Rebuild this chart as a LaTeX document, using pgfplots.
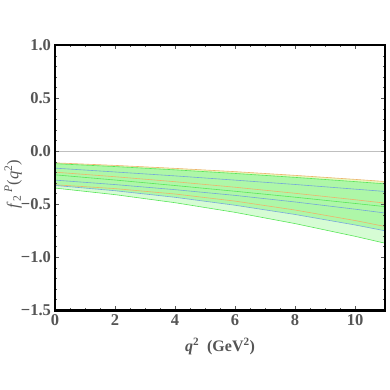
\documentclass[border=0pt]{standalone}
\usepackage{fontspec}
\setmainfont{Liberation Serif}
\usepackage{pgfplots}
\usepackage{pgfplotstable}
\pgfplotsset{compat=1.18}
\definecolor{lgray}{HTML}{555555}
\definecolor{cO}{HTML}{EDB46C}
\definecolor{cG}{HTML}{5AE65A}
\definecolor{cB}{HTML}{74A8D8}
\definecolor{fTop}{HTML}{E6F9BE}
\definecolor{fMid}{HTML}{AEF7A8}
\definecolor{fBot}{HTML}{D6FCD4}
\pgfplotstableread{
x    O1     G1     B1     O2     G2     B2     O3     B3     G3
0   -0.107 -0.115 -0.157 -0.195 -0.220 -0.270 -0.314 -0.320 -0.345
2   -0.131 -0.142 -0.193 -0.238 -0.269 -0.312 -0.350 -0.370 -0.407
4   -0.159 -0.173 -0.230 -0.285 -0.321 -0.360 -0.401 -0.432 -0.483
6   -0.190 -0.207 -0.270 -0.337 -0.375 -0.414 -0.468 -0.507 -0.574
8   -0.225 -0.244 -0.311 -0.394 -0.431 -0.476 -0.552 -0.594 -0.680
10  -0.263 -0.284 -0.355 -0.455 -0.490 -0.544 -0.651 -0.693 -0.800
11  -0.283 -0.305 -0.377 -0.487 -0.520 -0.580 -0.707 -0.748 -0.865
}\datatab
\begin{document}
\begin{tikzpicture}
\useasboundingbox (0,0) rectangle (390bp,390bp);
\begin{axis}[
  at={(55bp,79.5bp)}, anchor=south west,
  scale only axis, width=330bp, height=265bp,
  xmin=0, xmax=11, ymin=-1.5, ymax=1.0,
  xtick={0,2,4,6,8,10}, xticklabels={0,2,4,6,8,10},
  minor x tick num=3,
  ytick={-1.5,-1,-0.5,0,0.5,1}, yticklabels={−1.5,−1.0,−0.5,0.0,0.5,1.0},
  minor y tick num=4,
  tick align=inside, major tick length=4bp, minor tick length=2bp,
  tick style={lgray, line width=0.8bp},
  axis line style={black, line width=2bp},
  axis on top,
  ticklabel style={font=\fontsize{16.5bp}{19bp}\selectfont\bfseries, text=lgray},
  xticklabel style={yshift=-0.5bp},
  yticklabel style={xshift=-0.5bp},
  xlabel={\bfseries\textit{q}\textsuperscript{2}\ \ (GeV\textsuperscript{2})},
  xlabel style={at={(axis description cs:0.5,0)}, anchor=north, yshift=-24bp, font=\fontsize{16bp}{19bp}\selectfont, text=lgray},
  ylabel={\textit{f}\textsubscript{2}\,\textsuperscript{\textit{P}}(\textit{q}\textsuperscript{2})},
  ylabel style={at={(axis description cs:-0.127,0.477)}, anchor=center, font=\fontsize{16.5bp}{19bp}\selectfont, text=lgray},
]
\addplot[gray!50, line width=0.7bp] coordinates {(0,0) (11,0)};
\addplot[fill=fTop, draw=none] coordinates {(0,-0.107)(2,-0.131)(4,-0.159)(6,-0.190)(8,-0.225)(10,-0.263)(11,-0.283)(11,-0.305)(10,-0.284)(8,-0.244)(6,-0.207)(4,-0.173)(2,-0.142)(0,-0.115)} -- cycle;
\addplot[fill=fMid, draw=none] coordinates {(0,-0.115)(2,-0.142)(4,-0.173)(6,-0.207)(8,-0.244)(10,-0.284)(11,-0.305)(11,-0.748)(10,-0.693)(8,-0.594)(6,-0.507)(4,-0.432)(2,-0.370)(0,-0.320)} -- cycle;
\addplot[fill=fBot, draw=none] coordinates {(0,-0.320)(2,-0.370)(4,-0.432)(6,-0.507)(8,-0.594)(10,-0.693)(11,-0.748)(11,-0.865)(10,-0.800)(8,-0.680)(6,-0.574)(4,-0.483)(2,-0.407)(0,-0.345)} -- cycle;
\addplot[cO, line width=0.6bp] table[x=x, y=O1] {\datatab};
\addplot[cG, line width=0.6bp] table[x=x, y=G1] {\datatab};
\addplot[cB, line width=0.6bp] table[x=x, y=B1] {\datatab};
\addplot[cO, line width=0.6bp] table[x=x, y=O2] {\datatab};
\addplot[cG, line width=0.6bp] table[x=x, y=G2] {\datatab};
\addplot[cB, line width=0.6bp] table[x=x, y=B2] {\datatab};
\addplot[cO, line width=0.6bp] table[x=x, y=O3] {\datatab};
\addplot[cB, line width=0.6bp] table[x=x, y=B3] {\datatab};
\addplot[cG, line width=0.6bp] table[x=x, y=G3] {\datatab};
\end{axis}
\end{tikzpicture}
\end{document}
